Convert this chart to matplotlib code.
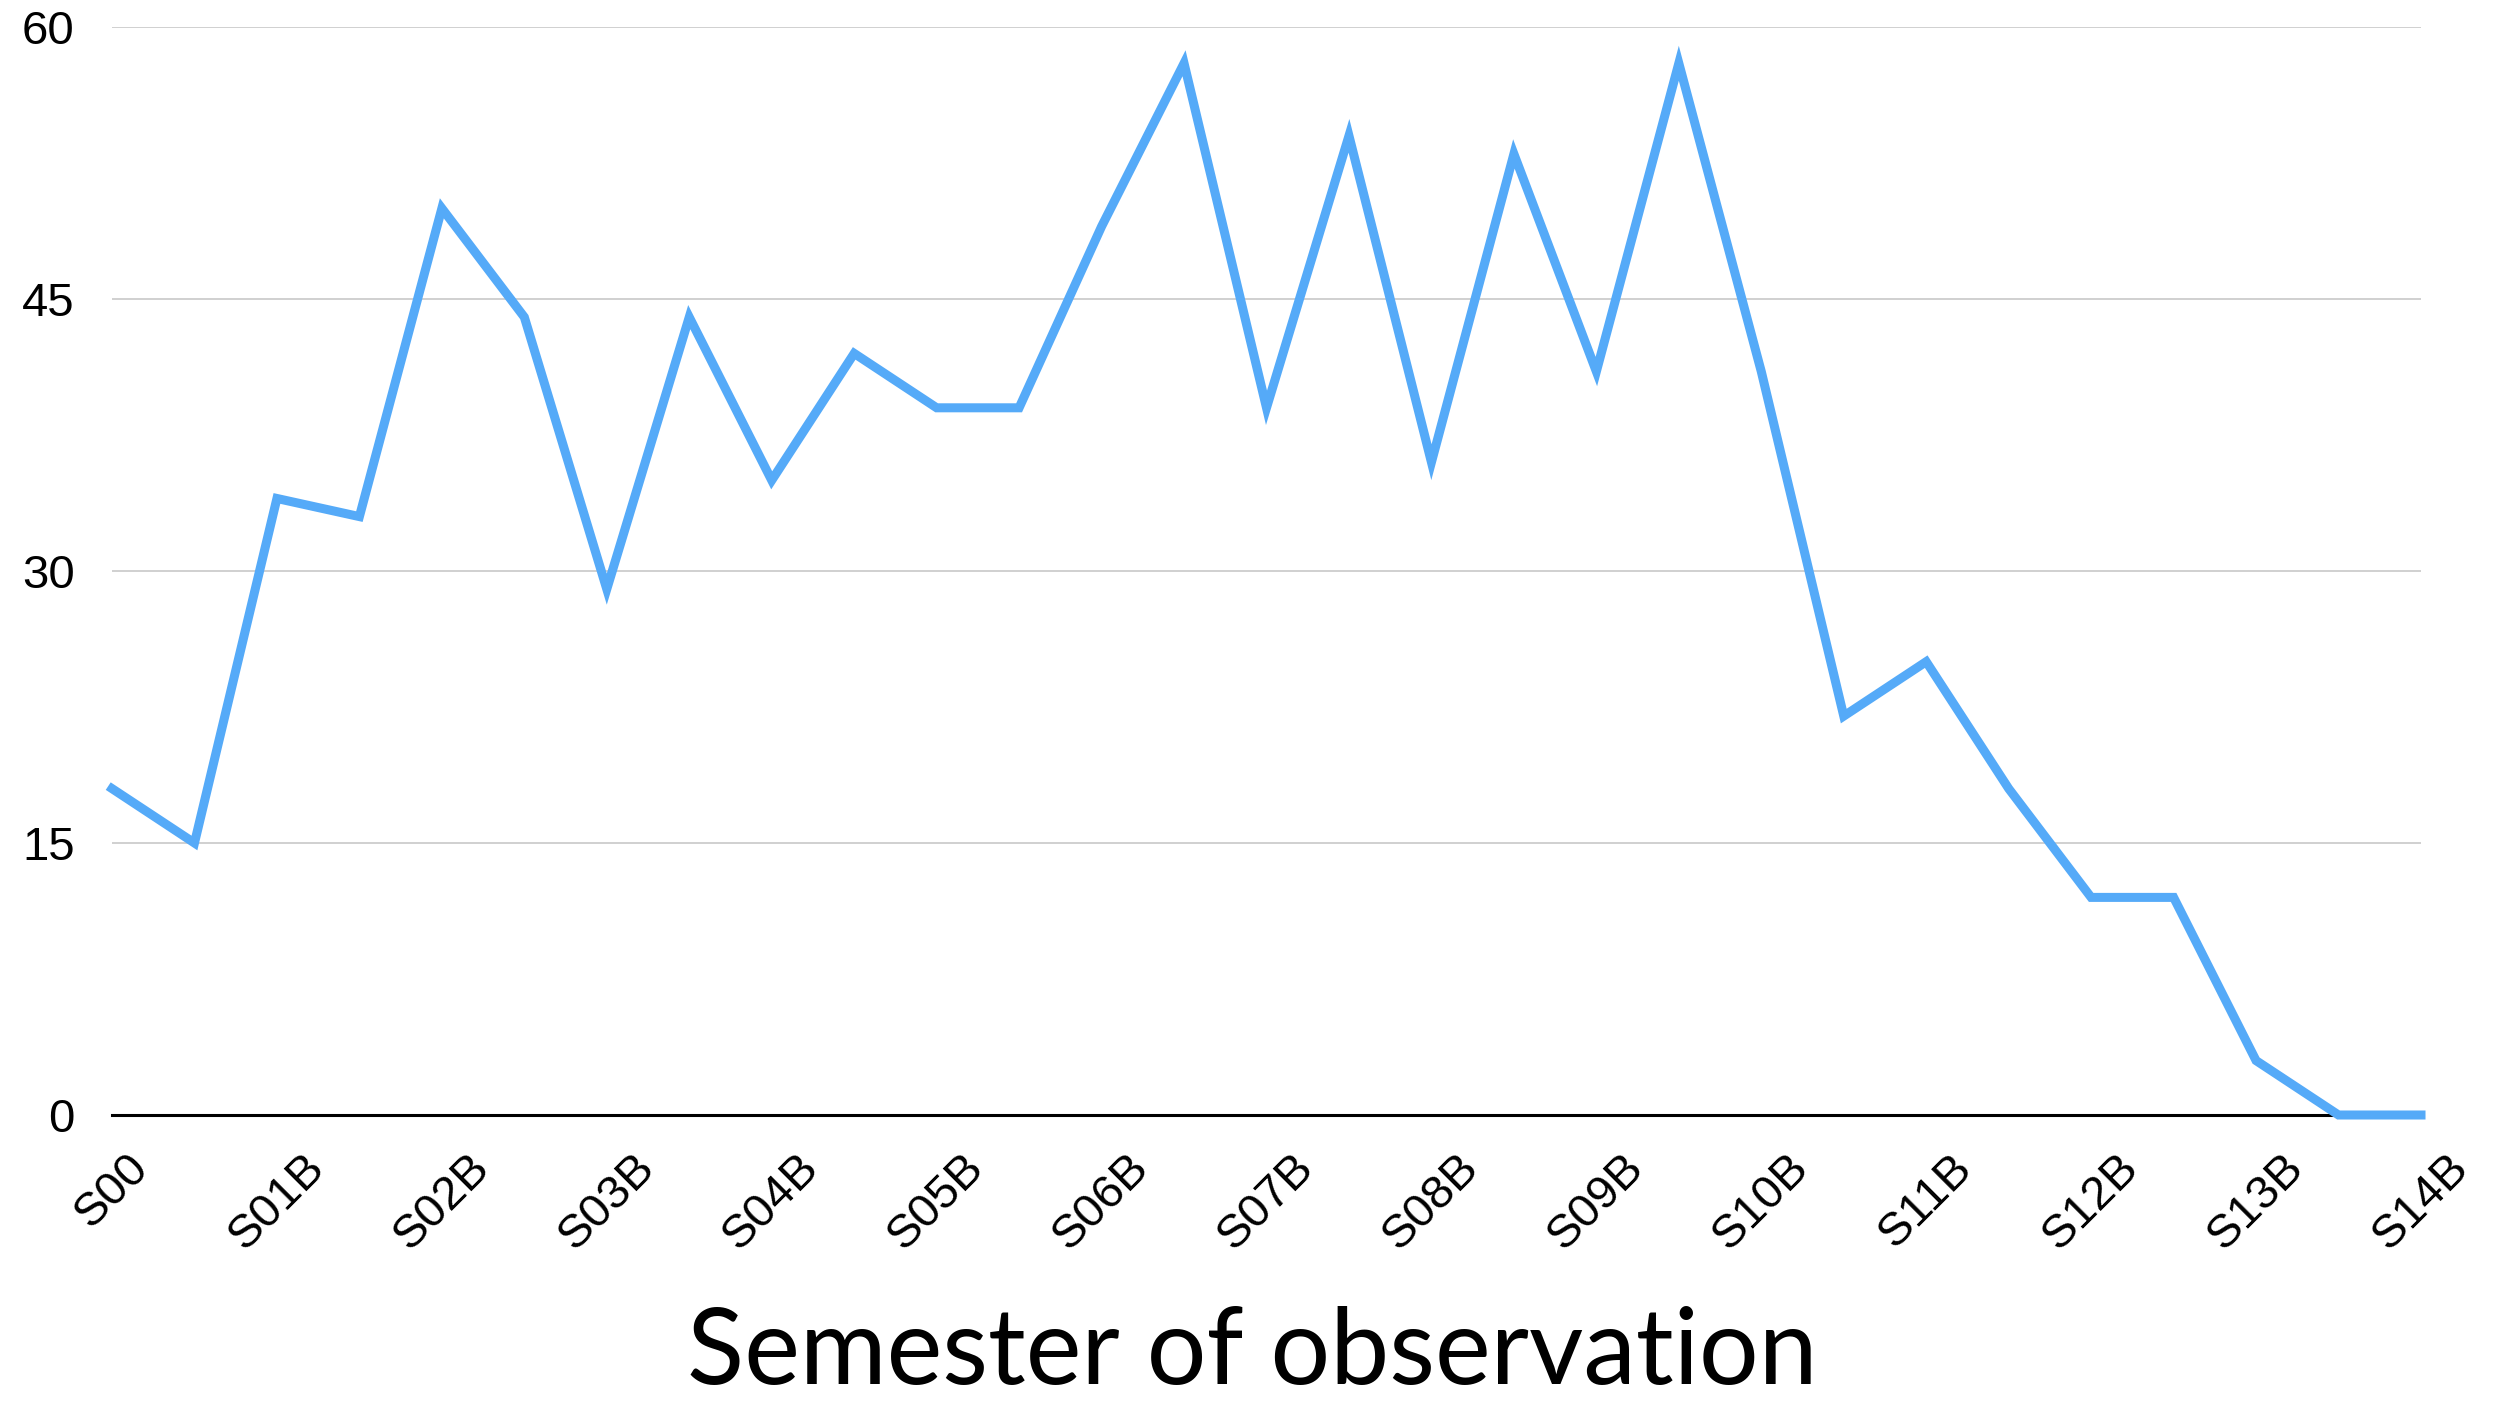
import matplotlib
matplotlib.use("Agg")
import matplotlib.pyplot as plt

# semesters, one point per semester, label shown on every other one
semesters = ["S00",
             "S01A", "S01B", "S02A", "S02B", "S03A", "S03B", "S04A", "S04B",
             "S05A", "S05B", "S06A", "S06B", "S07A", "S07B", "S08A", "S08B",
             "S09A", "S09B", "S10A", "S10B", "S11A", "S11B", "S12A", "S12B",
             "S13A", "S13B", "S14A", "S14B"]
counts = [18,
          15, 34, 33, 50, 44, 29, 44, 35,
          42, 39, 39, 49, 58, 39, 54, 36,
          53, 41, 58, 41, 22, 25, 18, 12,
          12, 3, 0, 0]
y_ticks = [0, 15, 30, 45, 60]

W, H = 2504, 1405
fig = plt.figure(figsize=(W / 100, H / 100), dpi=100)
ax = fig.add_axes([112 / W, 1 - 1115 / H, (2421 - 112) / W, (1115 - 27) / H])

x = list(range(len(semesters)))
ax.plot(x, counts, color="#55aaf8", linewidth=6.5, solid_joinstyle="miter",
        clip_on=False, zorder=3)

ax.set_xlim(0, len(semesters) - 1)
ax.set_ylim(0, 60)

ax.set_yticks(y_ticks)
ax.set_yticklabels([str(v) for v in y_ticks], fontsize=34, family="Liberation Sans")
ax.yaxis.grid(True, color="#c8c8c8", linewidth=1.2)
ax.set_axisbelow(True)

ax.set_xticks(x[::2])
ax.set_xticklabels(semesters[::2], rotation=45, ha="center", va="top",
                   fontsize=34, family="Liberation Sans")

ax.tick_params(axis="both", length=0)
ax.tick_params(axis="y", pad=27)
ax.tick_params(axis="x", pad=22)

for side in ["top", "right", "left"]:
    ax.spines[side].set_visible(False)
ax.spines["bottom"].set_color("black")
ax.spines["bottom"].set_linewidth(2.2)
ax.spines["bottom"].set_zorder(2)

fig.text(1252 / W, 3 / H, "Semester of observation", fontsize=76,
         family="Lato", ha="center", va="bottom")

fig.savefig("out.png", dpi=100)
